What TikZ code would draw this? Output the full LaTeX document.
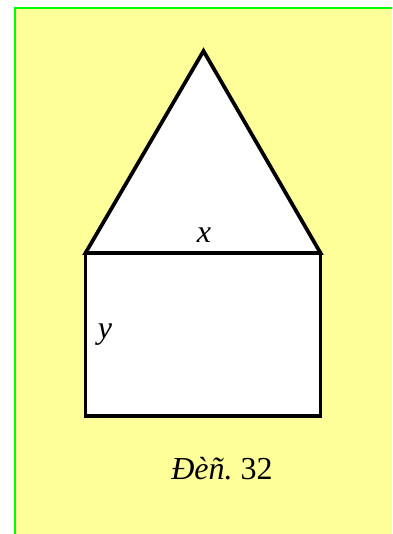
\documentclass[tikz,border=0pt]{standalone}
\usepackage{fontspec}
\setmainfont{Liberation Serif}
\usetikzlibrary{positioning}
\definecolor{paperyellow}{HTML}{FFFF99}
\tikzset{
  figline/.style={draw=black,line width=2.8pt,line join=miter},
  lbl/.style={font=\fontsize{24}{28}\selectfont\itshape,text=black,inner sep=0pt,anchor=base}
}

\begin{document}
\begin{tikzpicture}[x=0.75pt,y=-0.75pt]
\useasboundingbox (0,0) rectangle (392,534);
\fill[paperyellow] (15,8) rectangle (392,534);
\draw[green,line width=1.8pt] (15,534) -- (15,8) -- (392,8);

% house: wall and roof
\filldraw[fill=white,figline] (85.5,253) rectangle (320.5,416);
\filldraw[fill=white,figline] (85.5,253) -- (203.5,51) -- (320.5,253) -- cycle;

\node[lbl] (xlabel) at (204,243) {x};
\node[lbl] (ylabel) at (105,338) {y};
\node[lbl] (caption) at (222,479) {Đèñ.\ \upshape 32};
\end{tikzpicture}
\end{document}
